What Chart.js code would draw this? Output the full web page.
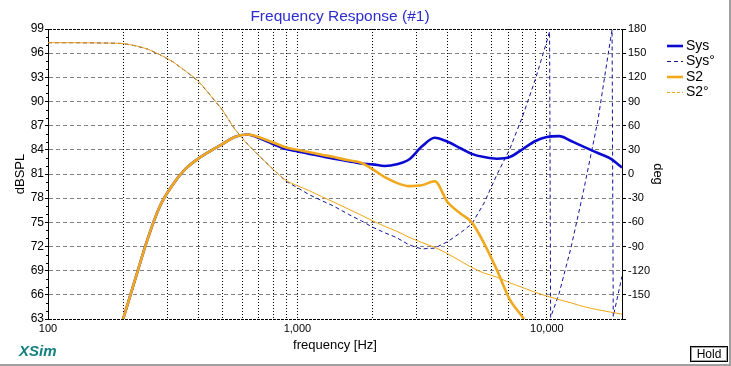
<!DOCTYPE html>
<html>
<head>
<meta charset="utf-8">
<title>Frequency Response (#1)</title>
<script src="https://cdn.jsdelivr.net/npm/chart.js@4.4.1/dist/chart.umd.min.js"></script>
<style>
  html, body { margin: 0; padding: 0; background: #fff; }
  #wrap { position: relative; width: 731px; height: 366px; }
</style>
</head>
<body>
<div id="wrap"><canvas id="frChart" width="731" height="366"></canvas></div>
<script>
// frequency points (Hz) shared by Sys, S2 and S2 phase
const freq = [100, 125, 150, 175, 200, 225, 250, 280, 315, 355, 400, 450, 500, 560, 630, 710, 800, 900,
  1000, 1120, 1250, 1400, 1600, 1800, 2000, 2240, 2500, 2800, 3150, 3550, 4000, 4500, 5000, 5600, 6300,
  7100, 8000, 9000, 10000, 11200, 12500, 14000, 16000, 18000, 20000];

// SPL (dB)
const sysSpl = [40, 46, 52, 57.5, 63, 68.2, 72.8, 76.9, 79.6, 81.6, 82.9, 83.9, 84.7, 85.6, 85.9, 85.4, 84.7, 84.1,
  83.8, 83.5, 83.2, 82.9, 82.6, 82.3, 82.2, 82.0, 82.2, 82.8, 84.4, 85.5, 85.0, 84.2, 83.5, 83.1, 82.9,
  83.1, 84.1, 85.1, 85.6, 85.7, 85.1, 84.4, 83.6, 82.9, 81.8];
const s2Spl = [40, 46, 52, 57.5, 63, 68.2, 72.8, 76.9, 79.6, 81.6, 82.9, 83.9, 84.7, 85.6, 85.9, 85.5, 84.9, 84.3,
  84.0, 83.7, 83.4, 83.1, 82.7, 82.4, 81.6, 80.6, 79.9, 79.5, 79.6, 80.1, 77.5, 76.1, 75.0, 72.4, 69.1,
  65.4, 63.2, 60.5, 58.0, 55.5, 53, 50, 47, 44, 41];

// phase (deg)
const s2Phase = [163, 163, 162.8, 162.5, 162, 159, 155.2, 148.3, 139.7, 128, 115.4, 96.8, 79.4, 56, 37.2, 21.1, 5.6, -8,
  -14.5, -21, -28, -35, -43.5, -51, -58, -65, -71, -78.5, -85, -91, -99, -108, -116, -123, -128,
  -135, -141, -147, -151.5, -156, -160, -164.5, -168.5, -171.5, -174];

// Sys phase has its own points around the two wraps
const sysPhaseFreq = [100, 125, 150, 175, 200, 225, 250, 280, 315, 355, 400, 450, 500, 560, 630, 710, 800, 900,
  1000, 1120, 1250, 1400, 1600, 1800, 2000, 2240, 2500, 2800, 3150, 3550, 4000, 4500, 5000, 5600, 6300,
  7100, 8000, 9000, 10000, 10250, 10350, 11200, 12500, 14000, 16000, 18000, 18250, 18450, 20000];
const sysPhase = [163, 163, 162.8, 162.5, 162, 159, 155.2, 148.3, 139.7, 128, 115.4, 96.8, 79.4, 56, 37.2, 21.1, 5.6, -9,
  -17, -26, -33, -40, -50, -58, -66, -73, -79, -88, -93, -92, -84, -73, -62, -36, -1,
  31, 72, 118, 165, 177, -178, -148, -91, -22, 66, 168, 179, -177, -127];

// axis ticks
const xGridValues = [100, 200, 300, 400, 500, 600, 700, 800, 900, 1000, 2000, 3000, 4000, 5000, 6000, 7000,
  8000, 9000, 10000, 20000];
const xLabelValues = [100, 1000, 10000];
const xLabelTexts = ["100", "1,000", "10,000"];

const FONT = "'Liberation Sans', Arial, sans-serif";
Chart.defaults.font.family = FONT;
Chart.defaults.color = "#000";

function toPoints(xs, ys) {
  return xs.map((x, i) => ({ x: x, y: ys[i] }));
}

// title, legend and window bits that XSim puts around the plot
const xsimDecor = {
  id: "xsimDecor",
  afterDraw(chart) {
    const ctx = chart.ctx;
    const yScale = chart.scales.y;
    const area = chart.chartArea;
    ctx.save();

    // minor ticks on the dB axis
    ctx.strokeStyle = "#000";
    ctx.lineWidth = 1;
    for (let v = 63; v <= 99; v++) {
      if (v % 3 === 0) continue;
      const py = Math.round(yScale.getPixelForValue(v)) + 0.5;
      ctx.beginPath();
      ctx.moveTo(area.left - 2, py);
      ctx.lineTo(area.left, py);
      ctx.stroke();
    }

    ctx.fillStyle = "#2b2bd0";
    ctx.font = "15.5px " + FONT;
    ctx.textAlign = "center";
    ctx.textBaseline = "alphabetic";
    ctx.fillText("Frequency Response (#1)", 340, 20.5);

    // legend
    ctx.font = "14px " + FONT;
    ctx.textAlign = "left";
    ctx.textBaseline = "middle";
    chart.data.datasets.forEach((ds, i) => {
      const ly = 46 + i * 15.5;
      ctx.beginPath();
      ctx.setLineDash(ds.legendDash || ds.borderDash || []);
      ctx.strokeStyle = ds.borderColor;
      ctx.lineWidth = ds.borderWidth;
      ctx.moveTo(667, ly);
      ctx.lineTo(683, ly);
      ctx.stroke();
      ctx.setLineDash([]);
      ctx.fillStyle = "#000";
      ctx.fillText(ds.label, 686, ly);
    });

    ctx.fillStyle = "#138080";
    ctx.font = "italic bold 15px " + FONT;
    ctx.textBaseline = "alphabetic";
    ctx.fillText("XSim", 19, 356);

    // Hold button
    ctx.fillStyle = "#fff";
    ctx.fillRect(690, 346, 37, 15);
    ctx.strokeStyle = "#000";
    ctx.lineWidth = 1;
    ctx.strokeRect(690.5, 346.5, 37, 15);
    ctx.strokeStyle = "#a0a0a0";
    ctx.strokeRect(691.5, 347.5, 35, 13);
    ctx.fillStyle = "#000";
    ctx.font = "12px " + FONT;
    ctx.textAlign = "center";
    ctx.textBaseline = "middle";
    ctx.fillText("Hold", 709, 354.5);

    ctx.fillStyle = "#a0a0a0";
    ctx.fillRect(0, 364, 731, 2);
    ctx.fillRect(729, 0, 2, 366);
    ctx.restore();
  }
};

const isFrame = (c) => c.tick && (c.tick.value === 63 || c.tick.value === 99);

new Chart(document.getElementById("frChart").getContext("2d"), {
  type: "line",
  data: {
    datasets: [
      {
        label: "Sys",
        data: toPoints(freq, sysSpl),
        yAxisID: "y",
        borderColor: "#0a0ad2",
        borderWidth: 2.6,
        cubicInterpolationMode: "monotone",
        order: 2
      },
      {
        label: "Sys°",
        data: toPoints(sysPhaseFreq, sysPhase),
        yAxisID: "y1",
        borderColor: "#12129a",
        borderWidth: 1,
        borderDash: [4, 3],
        tension: 0,
        order: 3
      },
      {
        label: "S2",
        data: toPoints(freq, s2Spl),
        yAxisID: "y",
        borderColor: "#f2a81d",
        borderWidth: 2.6,
        cubicInterpolationMode: "monotone",
        order: 0
      },
      {
        label: "S2°",
        data: toPoints(freq, s2Phase),
        yAxisID: "y1",
        borderColor: "#eea614",
        borderWidth: 1,
        legendDash: [3, 2],
        cubicInterpolationMode: "monotone",
        order: 1
      }
    ]
  },
  options: {
    responsive: false,
    animation: false,
    parsing: true,
    elements: { point: { radius: 0 } },
    layout: { padding: { top: 29, right: 64, bottom: 0, left: 0 } },
    plugins: {
      legend: { display: false },
      title: { display: false },
      tooltip: { enabled: false }
    },
    scales: {
      x: {
        type: "logarithmic",
        position: "bottom",
        min: 100,
        max: 20000,
        afterBuildTicks: (s) => { s.ticks = xGridValues.map(v => ({ value: v })); },
        afterFit: (s) => { s.height = 47; },
        ticks: {
          autoSkip: false,
          maxRotation: 0,
          padding: 3,
          font: { size: 11 },
          callback: (v) => {
            const k = xLabelValues.indexOf(v);
            return k >= 0 ? xLabelTexts[k] : "";
          }
        },
        grid: { color: "#000", lineWidth: 1, drawTicks: false },
        border: { display: false, dash: [1, 2] },
        title: { display: true, text: "frequency [Hz]", font: { size: 13 }, padding: { top: 0, bottom: 13 } }
      },
      y: {
        type: "linear",
        position: "left",
        min: 63,
        max: 99,
        afterFit: (s) => { s.width = 48; },
        ticks: { stepSize: 3, padding: 1, font: { size: 12 } },
        grid: {
          color: (c) => isFrame(c) ? "#000" : "#808080",
          lineWidth: 1,
          tickColor: "#000",
          tickLength: 3
        },
        border: {
          display: true,
          color: "#000",
          width: 1,
          dash: (c) => isFrame(c) ? [3, 1] : [4, 3]
        },
        title: { display: true, text: "dBSPL", font: { size: 13 }, padding: { top: 13 } }
      },
      y1: {
        type: "linear",
        position: "right",
        min: -180,
        max: 180,
        afterFit: (s) => { s.width = 45; },
        ticks: {
          stepSize: 30,
          padding: 2,
          font: { size: 11 },
          callback: (v) => (v === -180 ? "" : v)
        },
        grid: { drawOnChartArea: false, tickColor: "#000", tickLength: 4 },
        border: { display: true, color: "#000", width: 1 },
        title: { display: true, text: "deg", font: { size: 13 }, padding: { top: 2 } }
      }
    }
  },
  plugins: [xsimDecor]
});
</script>
</body>
</html>
